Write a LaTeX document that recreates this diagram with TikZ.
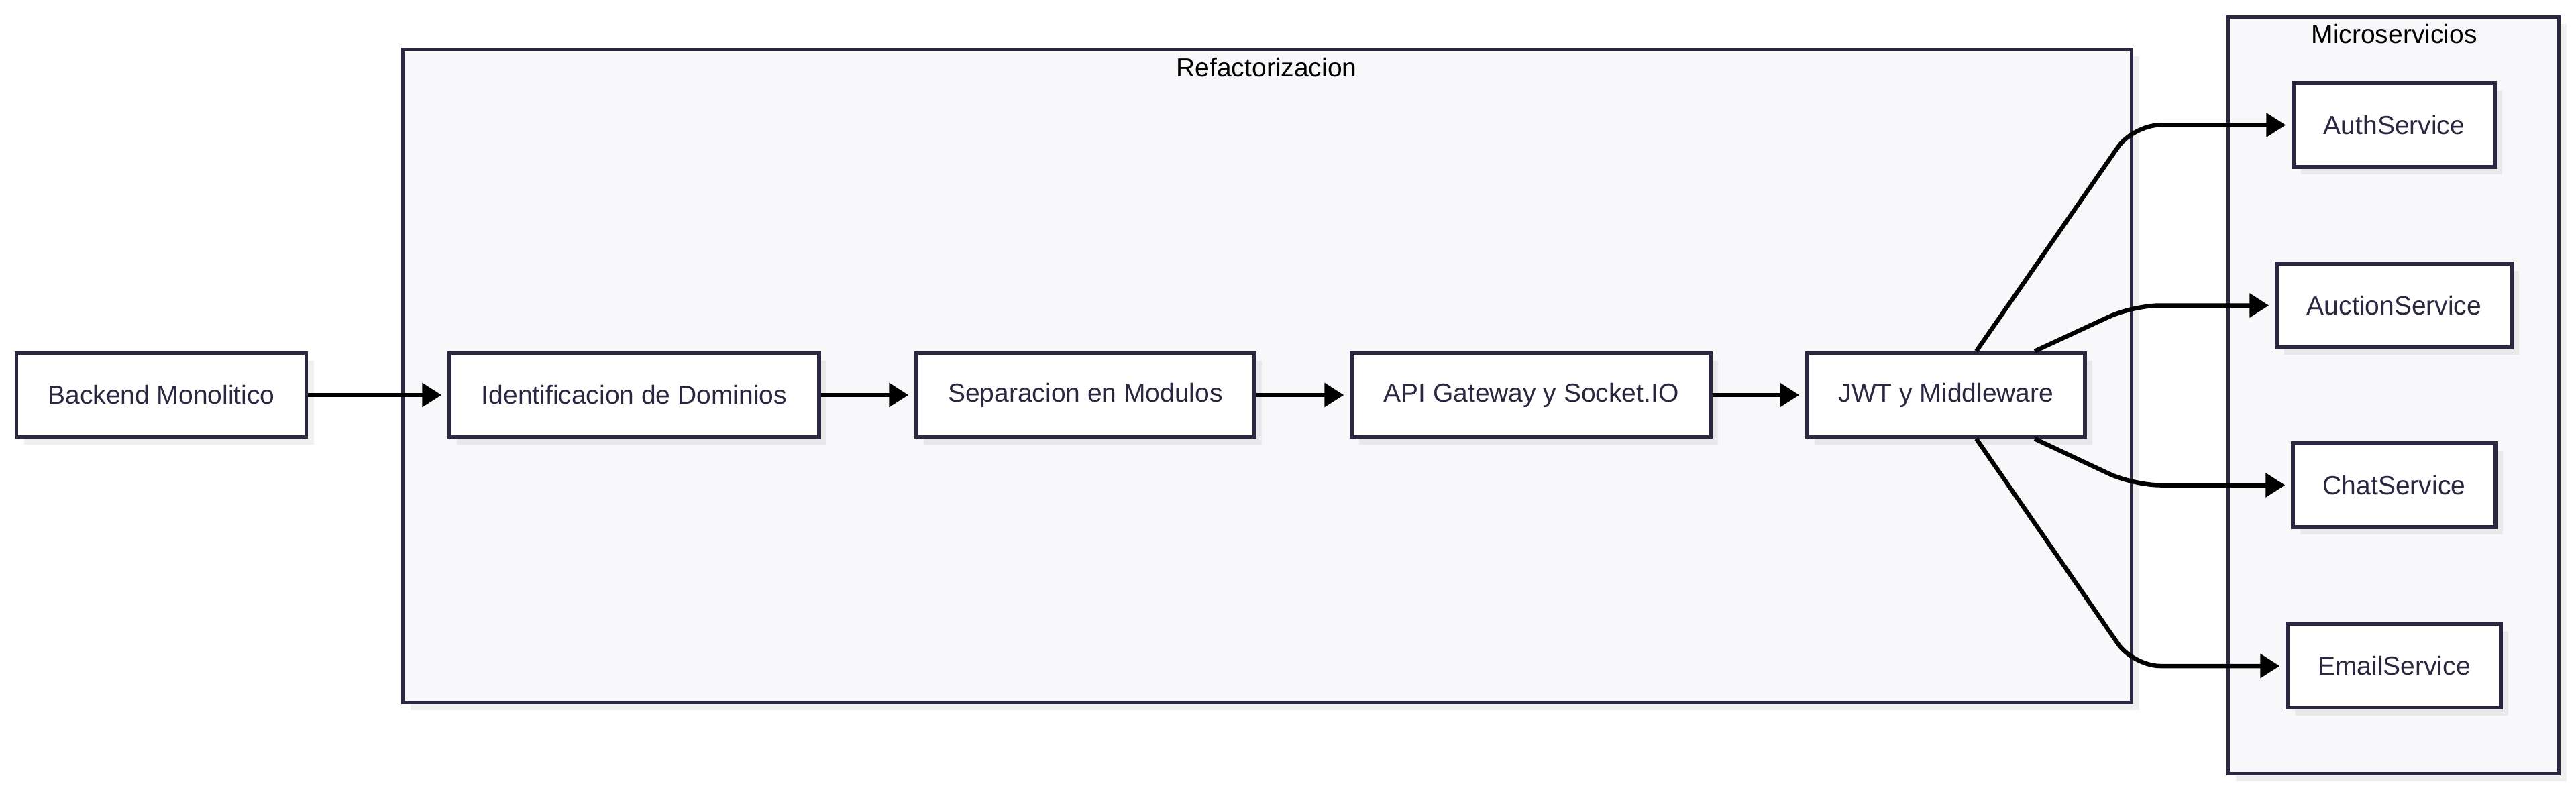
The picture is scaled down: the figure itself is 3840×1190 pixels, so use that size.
\documentclass[tikz,border=0pt]{standalone}
\usepackage{fontspec}
\setmainfont{Liberation Sans}
\usetikzlibrary{arrows.meta,shadows}
\definecolor{bordc}{HTML}{2A2840}
\definecolor{txtc}{HTML}{2A2840}
\definecolor{clfill}{HTML}{F8F8FA}
\begin{document}
\begin{tikzpicture}[x=1pt,y=-1pt,
  every node/.style={font=\fontsize{39}{47}\selectfont},
  softshadow/.style={drop shadow={shadow xshift=11pt, shadow yshift=-11pt, fill=black, opacity=0.06}},
  proc/.style={draw=bordc, line width=5.5pt, fill=white, text=txtc, minimum height=125pt, inner sep=0pt, softshadow},
  cluster/.style={draw=bordc, line width=5pt, fill=clfill, inner sep=0pt, softshadow},
  ctitle/.style={text=black, anchor=base},
  flow/.style={draw=black, line width=6.5pt, -{Triangle[length=29pt,width=35pt]}, shorten >=9pt}]
\useasboundingbox (0,0) rectangle (3840,1190);
% clusters
\node[cluster, minimum width=2577pt, minimum height=974pt] (refac) at (1889,560.5) {};
\node[cluster, minimum width=493pt, minimum height=1128pt] (micro) at (3568,589.5) {};
\node[ctitle] (refactitle) at (1888,115) {Refactorizacion};
\node[ctitle] (microtitle) at (3569,65) {Microservicios};
% main chain
\node[proc, minimum width=432pt] (backend) at (240.5,589) {Backend Monolitico};
\node[proc, minimum width=551pt] (ident) at (945.5,589) {Identificacion de Dominios};
\node[proc, minimum width=504pt] (sep) at (1618,589) {Separacion en Modulos};
\node[proc, minimum width=535pt] (api) at (2282.5,589) {API Gateway y Socket.IO};
\node[proc, minimum width=414pt] (jwt) at (2901,589) {JWT y Middleware};
% services
\node[proc, minimum width=300pt] (auth) at (3569,186.5) {AuthService};
\node[proc, minimum width=350pt] (auction) at (3569,455.5) {AuctionService};
\node[proc, minimum width=302pt] (chat) at (3569,723.5) {ChatService};
\node[proc, minimum width=318pt] (email) at (3569,993) {EmailService};
% edges
\draw[flow] (backend) -- (ident);
\draw[flow] (ident) -- (sep);
\draw[flow] (sep) -- (api);
\draw[flow] (api) -- (jwt);
\draw[flow, rounded corners=40pt] ([xshift=45pt]jwt.north) -- (refac.east |- auth.west) -- (auth.west);
\draw[flow, rounded corners=40pt] ([xshift=132pt]jwt.north) -- (refac.east |- auction.west) -- (auction.west);
\draw[flow, rounded corners=40pt] ([xshift=132pt]jwt.south) -- (refac.east |- chat.west) -- (chat.west);
\draw[flow, rounded corners=40pt] ([xshift=45pt]jwt.south) -- (refac.east |- email.west) -- (email.west);
\end{tikzpicture}
\end{document}
